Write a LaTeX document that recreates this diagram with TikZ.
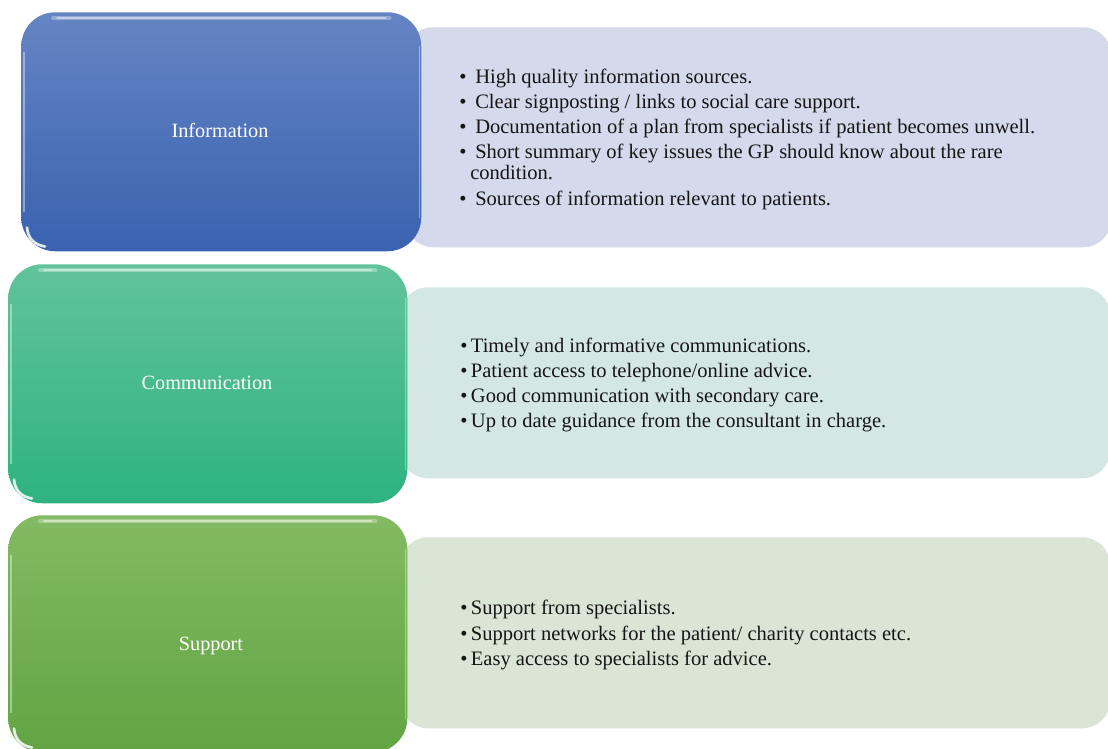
\documentclass[tikz,border=0pt]{standalone}
\usepackage{fontspec}
\setmainfont{Liberation Serif}
\usetikzlibrary{calc}

\definecolor{infoTop}{HTML}{6584C4}
\definecolor{infoBot}{HTML}{3A62AF}
\definecolor{commTop}{HTML}{62C39A}
\definecolor{commBot}{HTML}{2EB380}
\definecolor{suppTop}{HTML}{83BA63}
\definecolor{suppBot}{HTML}{62A443}
\definecolor{infoPanel}{HTML}{D4D9EB}
\definecolor{commPanel}{HTML}{D4E7E3}
\definecolor{suppPanel}{HTML}{DAE5D5}
\definecolor{itemText}{HTML}{151515}

\tikzset{
  panel/.style={rectangle, rounded corners=21pt, inner sep=0pt, anchor=north west, draw=none},
  catbox/.style={rectangle, rounded corners=25.5pt, inner sep=0pt, anchor=north west, draw=none},
  catlabel/.style={text=white, inner sep=0pt, font=\fontsize{15.2}{18}\selectfont},
  itemline/.style={anchor=base west, inner sep=0pt, text=itemText, font=\fontsize{15.4}{18.75}\selectfont},
  gloss/.style={white, opacity=.3, line width=3pt, line cap=round},
  glosscore/.style={white, opacity=.45, line width=1.2pt, line cap=round},
  rim/.style={white, opacity=.4, line width=.9pt},
  glint/.style={white, opacity=.85, line width=2pt, line cap=round}
}

% bullet followed by a fixed gap
\newcommand{\itembullet}[1]{\makebox[#1][l]{\textbullet}}

% glossy decorations on a category box
\newcommand{\glossy}[1]{%
  \draw[gloss] ($(#1.north west)+(32,6)$) -- ($(#1.north east)+(-32,6)$);
  \draw[glosscore] ($(#1.north west)+(36,6)$) -- ($(#1.north east)+(-36,6)$);
  \draw[rim] ($(#1.north east)+(-2,34)$) -- ($(#1.south east)+(-2,-34)$);
  \draw[rim] ($(#1.north west)+(3,40)$) -- ($(#1.south west)+(3,-40)$);
  \draw[glint] ($(#1.south west)+(6,-24)$) .. controls ($(#1.south west)+(7,-13)$) and ($(#1.south west)+(13,-7)$) .. ($(#1.south west)+(24,-5)$);
}

\begin{document}
\begin{tikzpicture}[x=0.75pt, y=-0.75pt]
\useasboundingbox (0,0) rectangle (1108,749);
\fill[white] (0,0) rectangle (1108,749);

% light panels holding the bullet lists
\node[panel, fill=infoPanel, minimum width=529.5pt, minimum height=165pt] (p1) at (405,27) {};
\node[panel, fill=commPanel, minimum width=532.5pt, minimum height=143.25pt] (p2) at (400,287) {};
\node[panel, fill=suppPanel, minimum width=532.5pt, minimum height=143.25pt] (p3) at (400,537) {};

% category boxes
\node[catbox, top color=infoTop, bottom color=infoBot, minimum width=300pt, minimum height=179.25pt] (b1) at (21,12) {};
\node[catbox, top color=commTop, bottom color=commBot, minimum width=299.25pt, minimum height=179.25pt] (b2) at (8,264) {};
\node[catbox, top color=suppTop, bottom color=suppBot, minimum width=299.25pt, minimum height=177.75pt] (b3) at (8,515) {};

\glossy{b1}
\glossy{b2}
\glossy{b3}

\node[catlabel] (l1) at (220,130) {Information};
\node[catlabel] (l2) at (207,383) {Communication};
\node[catlabel] (l3) at (211,646) {Support};

% Information items
\node[itemline] (i1) at (459,84)  {\itembullet{12pt}High quality information sources.};
\node[itemline] (i2) at (459,109) {\itembullet{12pt}Clear signposting / links to social care support.};
\node[itemline] (i3) at (459,134) {\itembullet{12pt}Documentation of a plan from specialists if patient becomes unwell.};
\node[itemline] (i4) at (459,159) {\itembullet{12pt}Short summary of key issues the GP should know about the rare};
\node[itemline] (i5) at (470,180) {condition.};
\node[itemline] (i6) at (459,205) {\itembullet{12pt}Sources of information relevant to patients.};

% Communication items
\node[itemline] (c1) at (460,352) {\itembullet{8pt}Timely and informative communications.};
\node[itemline] (c2) at (460,377) {\itembullet{8pt}Patient access to telephone/online advice.};
\node[itemline] (c3) at (460,402) {\itembullet{8pt}Good communication with secondary care.};
\node[itemline] (c4) at (460,427) {\itembullet{8pt}Up to date guidance from the consultant in charge.};

% Support items
\node[itemline] (s1) at (460,614) {\itembullet{8pt}Support from specialists.};
\node[itemline] (s2) at (460,640) {\itembullet{8pt}Support networks for the patient/ charity contacts etc.};
\node[itemline] (s3) at (460,665) {\itembullet{8pt}Easy access to specialists for advice.};
\end{tikzpicture}
\end{document}
